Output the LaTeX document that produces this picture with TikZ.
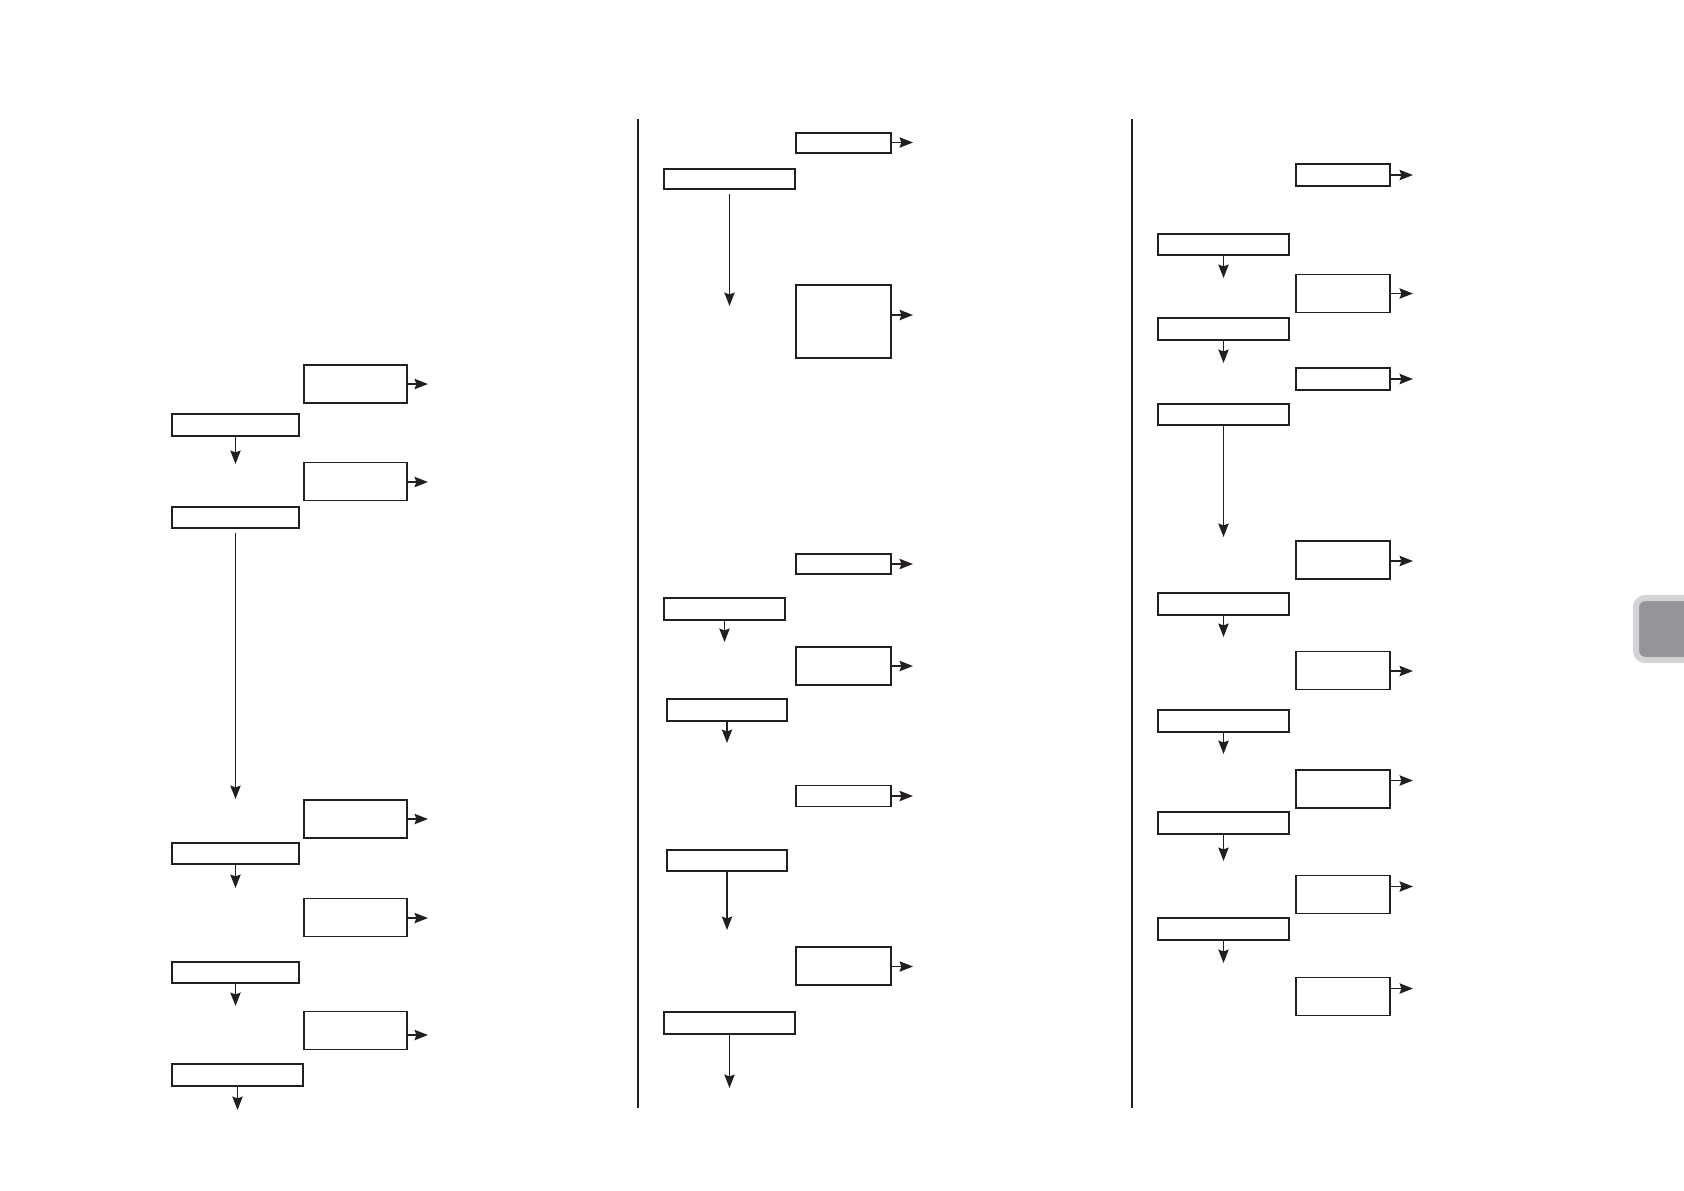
\documentclass[tikz,border=0pt]{standalone}
\usepackage{xcolor}
\usepackage{tikz}
\usetikzlibrary{positioning, arrows.meta}
\definecolor{Ink}{RGB}{35,31,32}
\definecolor{TabLight}{RGB}{211,212,214}
\definecolor{TabDark}{RGB}{148,149,153}

\begin{document}
\begin{tikzpicture}[x=0.1mm, y=-0.1mm,
          stage/.style={rectangle, draw=Ink, line width=0.5pt, inner sep=0pt,
                        minimum width=13.15mm, minimum height=2.15mm},
          outbox/.style={rectangle, draw=Ink, line width=0.5pt, inner sep=0pt,
                        minimum width=9.5mm, minimum height=3.8mm},
          arr/.style={-{Stealth[length=3.8pt, width=2.9pt, inset=0.5pt]}, draw=Ink, line width=0.55pt},
          rule/.style={draw=Ink, line width=0.75pt}
        ]
        \useasboundingbox (0,0) rectangle (1684,1190);
        \clip (0,0) rectangle (1684,1190);

        % column 1
        \node[outbox, minimum width=10.35mm] (r1) at (355.5, 384)   {};
        \node[outbox, minimum width=10.35mm] (r2) at (355.5, 481.5) {};
        \node[outbox, minimum width=10.35mm] (r3) at (355.5, 819)   {};
        \node[outbox, minimum width=10.35mm] (r4) at (355.5, 917.5) {};
        \node[outbox, minimum width=10.35mm] (r5) at (355.5, 1030.5){};
        \node[stage, minimum width=12.75mm] (l1) at (235.5, 425)   {};
        \node[stage, minimum width=12.75mm] (l2) at (235.5, 517.5) {};
        \node[stage, minimum width=12.75mm] (l3) at (235.5, 853.5) {};
        \node[stage, minimum width=12.75mm] (l4) at (235.5, 972.5) {};
        \node[stage]                        (l5) at (237.5, 1075)  {};

        \coordinate (t1) at (235.5, 464);
        \coordinate (t2) at (235.5, 799);
        \coordinate (t3) at (235.5, 888);
        \coordinate (t4) at (235.5, 1006);
        \coordinate (t5) at (237.5, 1110);
        \coordinate (o1) at (428, 384);
        \coordinate (o2) at (428, 482);
        \coordinate (o3) at (428, 819);
        \coordinate (o4) at (428, 918);
        \coordinate (o5) at (428, 1035);

        \draw[arr] (l1) -- (t1);
        \draw[arr, shorten <=1pt] (l2) -- (t2);
        \draw[arr] (l3) -- (t3);
        \draw[arr] (l4) -- (t4);
        \draw[arr] (l5) -- (t5);
        \draw[arr] (r1.east |- o1) -- (o1);
        \draw[arr] (r2.east |- o2) -- (o2);
        \draw[arr] (r3.east |- o3) -- (o3);
        \draw[arr] (r4.east |- o4) -- (o4);
        \draw[arr] (r5.east |- o5) -- (o5);

        % column 2
        \node[outbox, minimum height=2.05mm] (rA) at (843.5, 143)   {};
        \node[outbox, minimum height=7.35mm] (rB) at (843.5, 321.5) {};
        \node[outbox, minimum height=2.05mm] (rC) at (843.5, 564)   {};
        \node[outbox]                        (rD) at (843.5, 666)   {};
        \node[outbox, minimum height=2.1mm]  (rE) at (843.5, 796)   {};
        \node[outbox]                        (rF) at (843.5, 966)   {};
        \node[stage, minimum height=2.05mm]  (lA) at (729.5, 179)   {};
        \node[stage, minimum width=12.15mm]  (lC) at (724.5, 609)   {};
        \node[stage, minimum width=12.05mm]  (lD) at (727, 710)     {};
        \node[stage, minimum width=12.05mm]  (lE) at (727, 860.5)   {};
        \node[stage]                         (lF) at (729.5, 1023)  {};

        \coordinate (tA) at (729.5, 306);
        \coordinate (tC) at (724.5, 642);
        \coordinate (tD) at (727, 743);
        \coordinate (tE) at (727, 930);
        \coordinate (tF) at (729.5, 1088);
        \coordinate (oA) at (913, 142.5);
        \coordinate (oB) at (913, 315);
        \coordinate (oC) at (913, 564);
        \coordinate (oD) at (913, 666);
        \coordinate (oE) at (913, 796);
        \coordinate (oF) at (913, 966.5);

        \draw[arr, shorten <=1pt] (lA) -- (tA);
        \draw[arr] (lC) -- (tC);
        \draw[arr] (lD) -- (tD);
        \draw[arr] (lE) -- (tE);
        \draw[arr] (lF) -- (tF);
        \draw[arr] (rA.east |- oA) -- (oA);
        \draw[arr] (rB.east |- oB) -- (oB);
        \draw[arr] (rC.east |- oC) -- (oC);
        \draw[arr] (rD.east |- oD) -- (oD);
        \draw[arr] (rE.east |- oE) -- (oE);
        \draw[arr] (rF.east |- oF) -- (oF);

        % column 3
        \node[outbox, minimum width=9.45mm, minimum height=2.25mm] (rG) at (1343, 175)   {};
        \node[outbox, minimum width=9.45mm]                        (rH) at (1343, 293.5) {};
        \node[outbox, minimum width=9.45mm, minimum height=2.25mm] (rI) at (1343, 379)   {};
        \node[outbox, minimum width=9.45mm]                        (rJ) at (1343, 560)   {};
        \node[outbox, minimum width=9.45mm]                        (rK) at (1343, 670.5) {};
        \node[outbox, minimum width=9.45mm]                        (rL) at (1343, 789)   {};
        \node[outbox, minimum width=9.45mm]                        (rM) at (1343, 894.5) {};
        \node[outbox, minimum width=9.45mm]                        (rN) at (1343, 996.5) {};
        \node[stage] (lG) at (1223.5, 244.5) {};
        \node[stage] (lH) at (1223.5, 329)   {};
        \node[stage] (lI) at (1223.5, 414.5) {};
        \node[stage] (lJ) at (1223.5, 604)   {};
        \node[stage] (lK) at (1223.5, 721)   {};
        \node[stage] (lL) at (1223.5, 823)   {};
        \node[stage] (lM) at (1223.5, 929)   {};

        \coordinate (tG) at (1223.5, 278);
        \coordinate (tH) at (1223.5, 363);
        \coordinate (tI) at (1223.5, 537);
        \coordinate (tJ) at (1223.5, 637);
        \coordinate (tK) at (1223.5, 754);
        \coordinate (tL) at (1223.5, 861);
        \coordinate (tM) at (1223.5, 963);
        \coordinate (oG) at (1413, 175);
        \coordinate (oH) at (1413, 293.5);
        \coordinate (oI) at (1413, 379);
        \coordinate (oJ) at (1413, 561);
        \coordinate (oK) at (1413, 671);
        \coordinate (oL) at (1413, 780.5);
        \coordinate (oM) at (1413, 886.5);
        \coordinate (oN) at (1413, 988.5);

        \draw[arr] (lG) -- (tG);
        \draw[arr] (lH) -- (tH);
        \draw[arr] (lI) -- (tI);
        \draw[arr] (lJ) -- (tJ);
        \draw[arr] (lK) -- (tK);
        \draw[arr] (lL) -- (tL);
        \draw[arr] (lM) -- (tM);
        \draw[arr] (rG.east |- oG) -- (oG);
        \draw[arr] (rH.east |- oH) -- (oH);
        \draw[arr] (rI.east |- oI) -- (oI);
        \draw[arr] (rJ.east |- oJ) -- (oJ);
        \draw[arr] (rK.east |- oK) -- (oK);
        \draw[arr] (rL.east |- oL) -- (oL);
        \draw[arr] (rM.east |- oM) -- (oM);
        \draw[arr] (rN.east |- oN) -- (oN);

        \draw[rule] (638, 119) -- (638, 1108);
        \draw[rule] (1132, 119) -- (1132, 1108);

        \draw[fill=TabDark, draw=TabLight, line width=1.7pt, rounded corners=0.9mm]
             (1636, 598) rectangle (1720, 660);
      \end{tikzpicture}
\end{document}
